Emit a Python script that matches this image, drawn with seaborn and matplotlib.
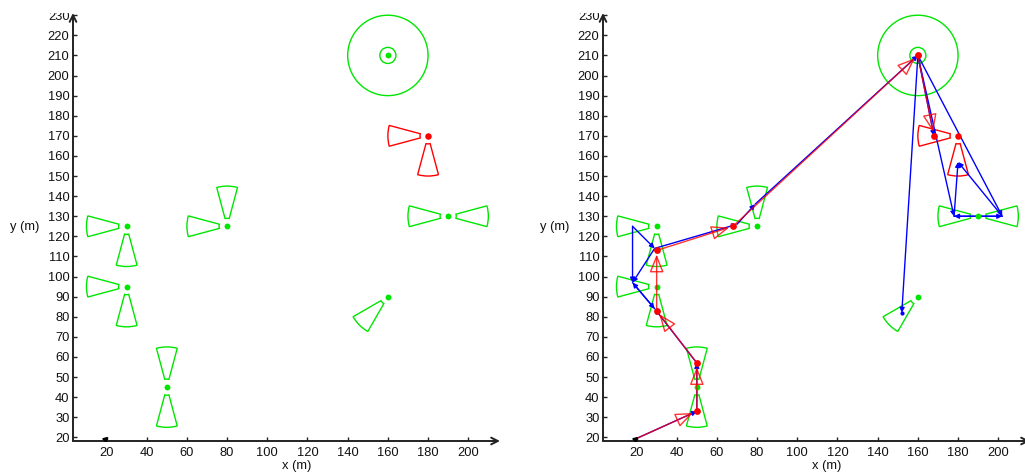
import matplotlib
matplotlib.use("Agg")
import matplotlib.pyplot as plt
from matplotlib.patches import Wedge, Circle, FancyArrowPatch
from matplotlib.transforms import Bbox
import seaborn as sns

sns.set_theme(style="white")
plt.rcParams["font.family"] = ["Liberation Sans", "DejaVu Sans"]

# sensor positions (green nodes)
sensor_x = [30, 30, 80, 50, 190, 160, 160]
sensor_y = [125, 95, 125, 45, 130, 90, 210]

# directional sensing sectors: centre, pointing angle (deg)
wedge_x = [30, 30, 30, 30, 80, 80, 50, 50, 190, 190, 160]
wedge_y = [125, 125, 95, 95, 125, 125, 45, 45, 130, 130, 90]
wedge_dir = [180, 270, 180, 270, 180, 90, 90, 270, 180, 0, 225]

# omni sensor rings
ring_x, ring_y = 160, 210
ring_radii = [4, 20]

# active (red) sensor
red_sensor_x = [180]
red_sensor_y = [170]
red_wedge_dir = [180, 270]

# true target track (red)
track_x = [19, 50, 50, 30, 30, 68, 160, 168]
track_y = [19, 33, 57, 83, 113, 125, 210, 170]

# estimated track segments (blue)
est_x0 = [19, 50, 50, 29, 18, 18, 18, 29, 29, 70, 79, 160, 160, 160, 178, 202, 178, 202, 160]
est_y0 = [19, 33, 57, 84, 97, 125, 125, 114, 114, 126, 136, 210, 210, 210, 130, 130, 130, 130, 210]
est_x1 = [50, 50, 29, 18, 29, 18, 29, 18, 70, 79, 160, 152, 178, 202, 202, 178, 180, 180, 168]
est_y1 = [33, 57, 84, 97, 84, 97, 114, 97, 126, 136, 210, 82, 130, 130, 130, 130, 157, 157, 170]

x_ticks = list(range(20, 201, 20))
y_ticks = list(range(20, 231, 10))

GREEN = "#00e600"
RED = "#ff0000"
BLUE = "#0000ff"
AX_COL = "#222222"
TXT = "#111111"
FS = 9.3

fig = plt.figure(figsize=(10.25, 4.75), dpi=100)
W, H = 1025, 475
ax_left = fig.add_axes([73 / W, 34 / H, 427 / W, 428 / H])
ax_right = fig.add_axes([603 / W, 34 / H, 427 / W, 428 / H])


def draw_field(ax):
    for x, y, d in zip(wedge_x, wedge_y, wedge_dir):
        ax.add_patch(Wedge((x, y), 20, d - 15, d + 15, width=16, fill=False,
                           ec=GREEN, lw=1))
    for r in ring_radii:
        ax.add_patch(Circle((ring_x, ring_y), r, fill=False, ec=GREEN, lw=1))
    for x, y in zip(red_sensor_x, red_sensor_y):
        for d in red_wedge_dir:
            ax.add_patch(Wedge((x, y), 20, d - 15, d + 15, width=16, fill=False,
                               ec=RED, lw=1))
    sns.scatterplot(x=sensor_x, y=sensor_y, color=GREEN, s=18, linewidth=0,
                    ax=ax, zorder=4)
    sns.scatterplot(x=red_sensor_x, y=red_sensor_y, color=RED, s=22, linewidth=0,
                    ax=ax, zorder=4)
    ax.plot(track_x[0], track_y[0], marker=(3, 0, -45), color="black",
            markersize=4, zorder=6)


def style_axes(ax):
    ax.set_xlim(3.3, 215.8)
    ax.set_ylim(18.2, 231.1)
    for s in ax.spines.values():
        s.set_visible(False)
    for end in [(1, 0), (0, 1)]:
        ax.annotate("", xy=end, xytext=(0, 0), xycoords="axes fraction",
                    arrowprops=dict(arrowstyle="->", color=AX_COL, lw=1.4,
                                    shrinkA=0, shrinkB=0, mutation_scale=12),
                    annotation_clip=False)
    ax.set_xticks(x_ticks)
    ax.set_yticks(y_ticks)
    ax.tick_params(direction="in", length=3, width=1, color=AX_COL,
                   labelsize=FS, labelcolor=TXT, pad=2.5,
                   bottom=True, left=True)
    ax.tick_params(axis="x", pad=4)
    ax.set_xlabel("x (m)", fontsize=FS, color=TXT, va="center")
    ax.set_ylabel("y (m)", fontsize=FS, color=TXT, rotation=0,
                  ha="center", va="center")
    ax.xaxis.set_label_coords(0.525, -0.058)
    ax.yaxis.set_label_coords(-0.112, 0.5)
    ax.grid(False)
    ax.set_facecolor("white")
    top_lbl = ax.get_yticklabels()[-1]
    top_lbl.set_clip_on(True)
    top_lbl.set_clip_box(Bbox.from_extents(0, 0, W, H - 13))


draw_field(ax_left)
draw_field(ax_right)

# estimated track (blue)
for x0, y0, x1, y1 in zip(est_x0, est_y0, est_x1, est_y1):
    ax_right.add_patch(FancyArrowPatch((x0, y0), (x1, y1), arrowstyle="-|>",
                                       mutation_scale=7, color=BLUE, lw=1,
                                       shrinkA=0, shrinkB=0, zorder=3))
ax_right.plot(152, 82, "o", color=BLUE, markersize=2, zorder=3)

# true track (red)
for i in range(len(track_x) - 1):
    ax_right.add_patch(FancyArrowPatch((track_x[i], track_y[i]),
                                       (track_x[i + 1], track_y[i + 1]),
                                       arrowstyle="-|>,head_length=1.0,head_width=0.4",
                                       mutation_scale=11, ec=RED, fc="none",
                                       lw=1, alpha=0.8, shrinkA=0, shrinkB=3,
                                       zorder=5))
sns.scatterplot(x=track_x[1:], y=track_y[1:], color=RED, s=24, linewidth=0,
                ax=ax_right, zorder=6)

style_axes(ax_left)
style_axes(ax_right)

fig.savefig("out.png", dpi=100, facecolor="white")
